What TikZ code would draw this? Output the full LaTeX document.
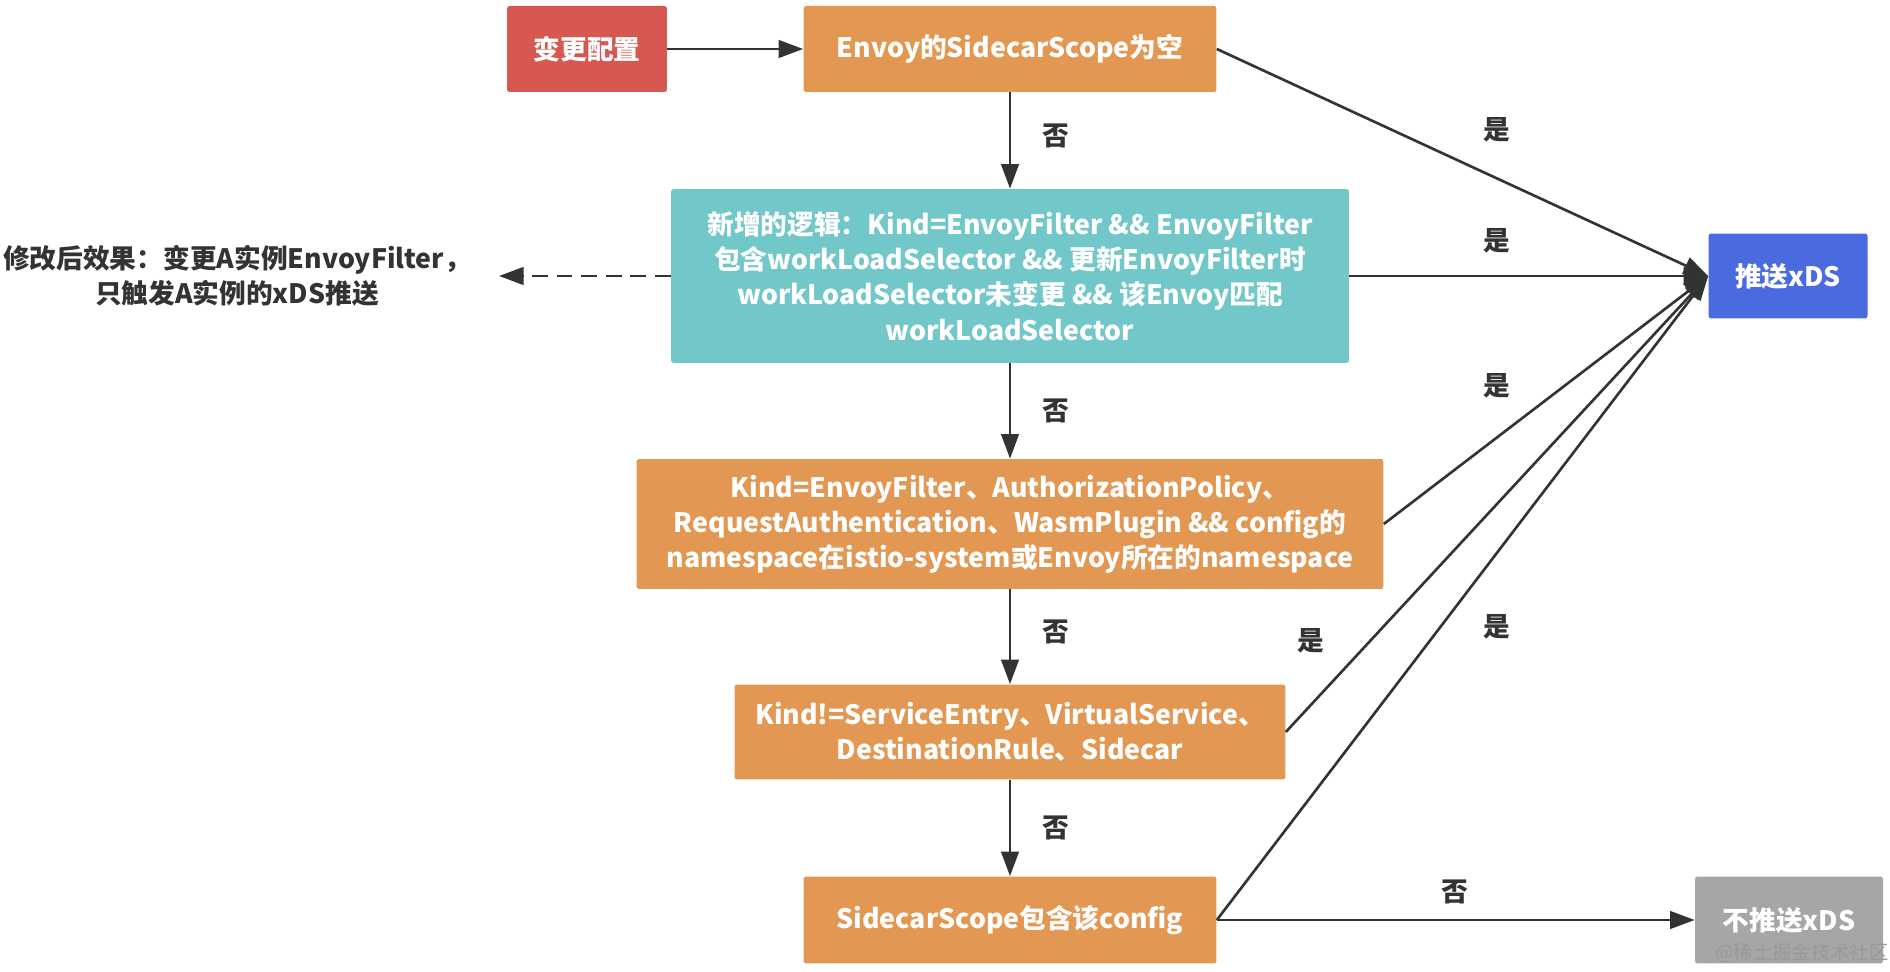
\documentclass[tikz,border=0pt]{standalone}
\usepackage{fontspec}
\setmainfont{Noto Sans CJK SC}
\usepackage{xcolor}
\usepackage{tikz}
\usetikzlibrary{arrows.meta,positioning}
\definecolor{startred}{RGB}{214,88,80}
\definecolor{condorange}{RGB}{226,151,83}
\definecolor{newteal}{RGB}{114,199,200}
\definecolor{pushblue}{RGB}{74,106,223}
\definecolor{nopushgray}{RGB}{166,166,166}
\definecolor{linegray}{RGB}{51,51,51}

\begin{document}
\begin{tikzpicture}[
  x=0.02cm, y=-0.02cm,
  font=\fontsize{15.2}{20}\selectfont\bfseries,
  box/.style={rectangle,rounded corners=1.5pt,text=white,align=center,inner sep=0pt},
  cond/.style={box,fill=condorange},
  arr/.style={-{Triangle[length=14pt,width=10pt]},line width=1.5pt,color=linegray},
  dasharr/.style={arr,dashed,dash pattern=on 9pt off 5pt},
  lbl/.style={text=linegray},
]
\useasboundingbox (0,0) rectangle (1890,972);

\node[box,fill=startred,minimum width=3.2cm,minimum height=1.72cm] (start) at (587,49) {变更配置};
\node[cond,minimum width=8.26cm,minimum height=1.72cm] (empty) at (1010,49) {Envoy的SidecarScope为空};
\node[box,fill=newteal,minimum width=13.56cm,minimum height=3.48cm] (ef) at (1010,276)
  {新增的逻辑：Kind=EnvoyFilter \&\& EnvoyFilter\\包含workLoadSelector \&\& 更新EnvoyFilter时\\workLoadSelector未变更 \&\& 该Envoy匹配\\workLoadSelector};
\node[cond,minimum width=14.94cm,minimum height=2.6cm] (kind) at (1010,524)
  {Kind=EnvoyFilter、AuthorizationPolicy、\\RequestAuthentication、WasmPlugin \&\& config的\\namespace在istio-system或Envoy所在的namespace};
\node[cond,minimum width=11.02cm,minimum height=1.9cm] (kindn) at (1010,732)
  {Kind!=ServiceEntry、VirtualService、\\DestinationRule、Sidecar};
\node[cond,minimum width=8.26cm,minimum height=1.74cm] (scope) at (1010,920) {SidecarScope包含该config};
\node[box,fill=pushblue,minimum width=3.18cm,minimum height=1.7cm] (push) at (1788,276) {推送xDS};
\node[box,fill=nopushgray,minimum width=3.76cm,minimum height=1.74cm] (nopush) at (1789,920) {不推送xDS};
\node[lbl,align=center] (note) at (237,276) {修改后效果：变更A实例EnvoyFilter，\\只触发A实例的xDS推送};
\coordinate (notetip) at (499,276);

% main flow
\draw[arr] (start) -- (empty);
\draw[arr] (empty) -- (ef) node[lbl,pos=0.45,right=0.5cm] {否};
\draw[arr] (ef) -- (kind) node[lbl,pos=0.5,right=0.5cm] {否};
\draw[arr] (kind) -- (kindn) node[lbl,pos=0.45,right=0.5cm] {否};
\draw[arr] (kindn) -- (scope) node[lbl,pos=0.5,right=0.5cm] {否};
\draw[dasharr] (ef) -- (notetip);

% yes branches
\draw[arr] (empty.east) -- (push.west);
\draw[arr] (ef.east) -- (push.west);
\draw[arr] (kind.east) -- (push.west);
\draw[arr] (kindn.east) -- (push.west);
\draw[arr] (scope.east) -- (push.west);
\draw[arr] (scope.east) -- (nopush.west);

\node[lbl] (y1) at (1497,130) {是};
\node[lbl] (y2) at (1497,241) {是};
\node[lbl] (y3) at (1497,386) {是};
\node[lbl] (y4) at (1311,641) {是};
\node[lbl] (y5) at (1497,627) {是};
\node[lbl] (n5) at (1455,892) {否};

\node[font=\fontsize{11}{13}\selectfont,text=black!40] (mark) at (1802,953) {@稀土掘金技术社区};
\end{tikzpicture}
\end{document}
